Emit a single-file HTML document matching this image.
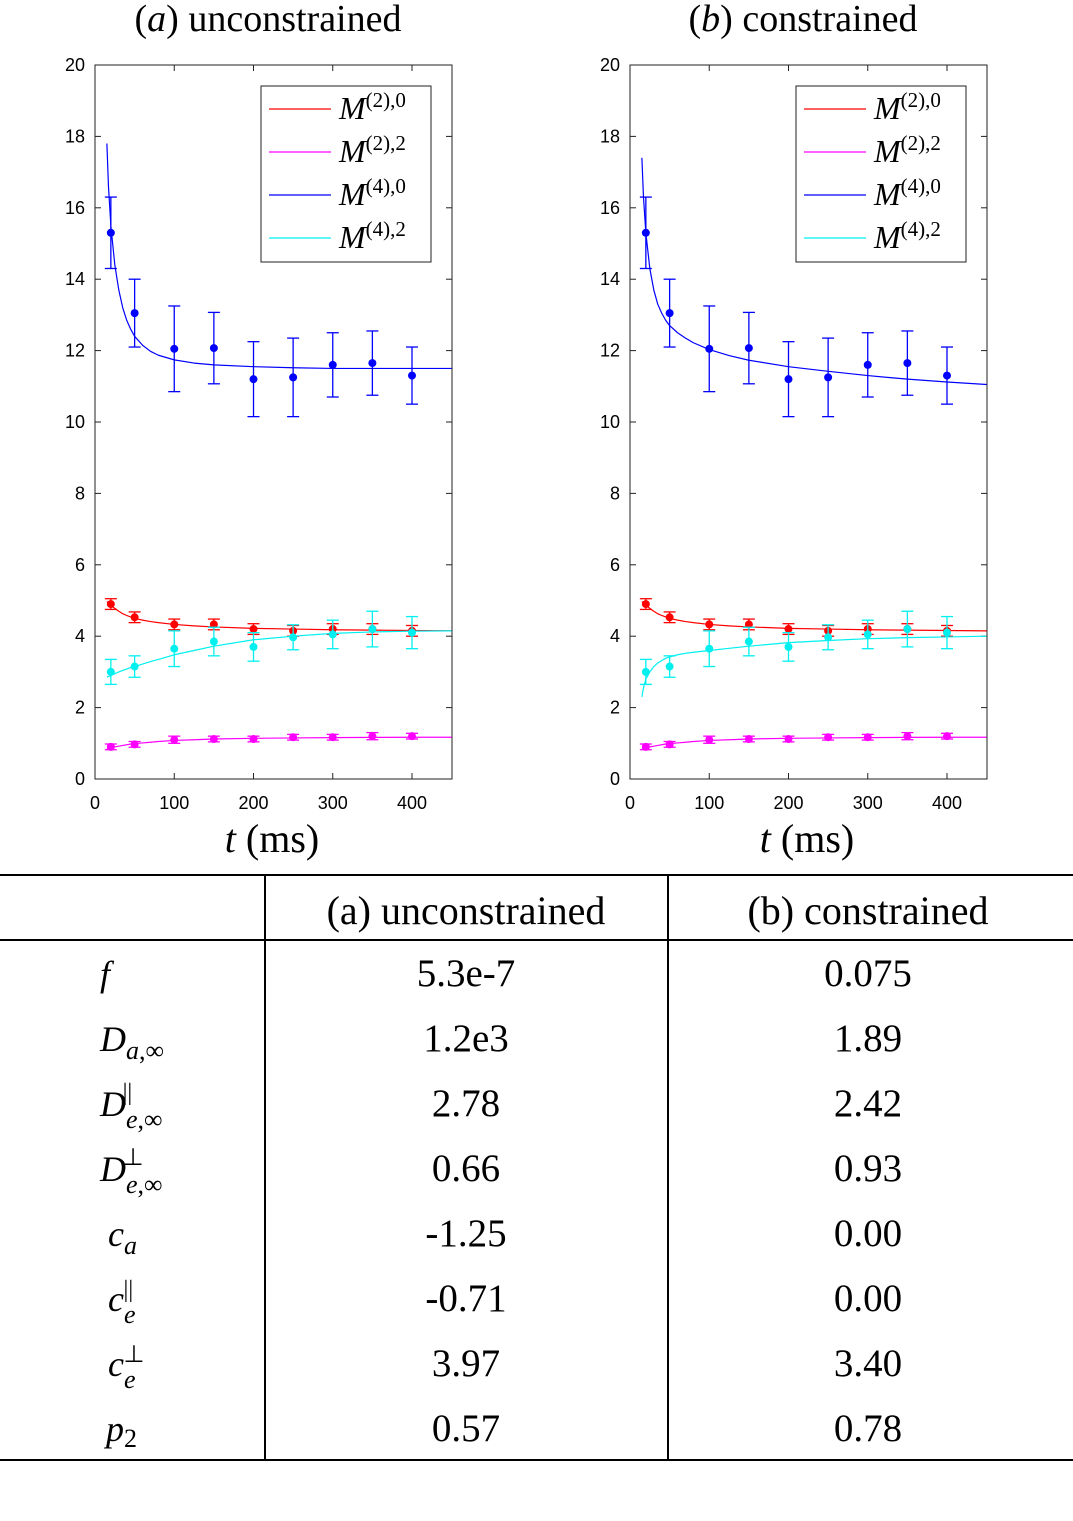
<!DOCTYPE html>
<html><head><meta charset="utf-8">
<style>
body{margin:0;background:#fff;width:1073px;height:1516px;overflow:hidden;font-family:"Liberation Serif",serif}
svg text{font-family:"Liberation Serif",serif}
.tk{font-family:"Liberation Sans",sans-serif;font-size:18px}
</style></head><body>
<svg id="fig" width="1073" height="1516">
<g id="tbl">
<line x1="0" y1="875" x2="1073" y2="875" stroke="#000" stroke-width="2"/>
<line x1="0" y1="940" x2="1073" y2="940" stroke="#000" stroke-width="2"/>
<line x1="0" y1="1460" x2="1073" y2="1460" stroke="#000" stroke-width="2"/>
<line x1="265" y1="875" x2="265" y2="1460" stroke="#000" stroke-width="2"/>
<line x1="668" y1="875" x2="668" y2="1460" stroke="#000" stroke-width="2"/>
<text x="466" y="924" font-size="40" text-anchor="middle">(a) unconstrained</text>
<text x="868" y="924" font-size="40" text-anchor="middle">(b) constrained</text>
</g>
</svg>
<script>
const svg=document.getElementById('fig');
const NS='http://www.w3.org/2000/svg';
// ---- data ----
const times=[20,50,100,150,200,250,300,350,400];
const blueVals=[15.3,13.05,12.05,12.07,11.2,11.25,11.6,11.65,11.3];
const blueErr=[1.0,0.95,1.2,1.0,1.05,1.1,0.9,0.9,0.8];
const redVals=[4.9,4.53,4.33,4.33,4.2,4.15,4.2,4.2,4.15];
const redErr=[0.15,0.15,0.15,0.15,0.15,0.15,0.15,0.15,0.15];
const cyanVals=[3.0,3.15,3.65,3.85,3.7,3.97,4.05,4.2,4.1];
const cyanErr=[0.35,0.3,0.5,0.4,0.4,0.35,0.4,0.5,0.45];
const magVals=[0.9,0.97,1.1,1.12,1.12,1.17,1.17,1.2,1.2];
const magErr=[0.08,0.08,0.1,0.08,0.08,0.08,0.08,0.1,0.08];
const fitT=[15,17,20,25,30,35,40,45,50,60,70,80,100,125,150,200,250,300,350,400,450];
const fitBlueA=[17.8,16.6,15.5,14.4,13.7,13.2,12.85,12.6,12.4,12.15,11.98,11.87,11.74,11.65,11.6,11.55,11.52,11.5,11.5,11.5,11.5];
const fitBlueB=[17.4,16.3,15.3,14.3,13.7,13.3,13.05,12.85,12.7,12.5,12.35,12.22,12.03,11.86,11.73,11.55,11.42,11.3,11.2,11.12,11.05];
const fitRed=[4.97,4.93,4.87,4.78,4.7,4.63,4.58,4.54,4.5,4.45,4.41,4.38,4.33,4.29,4.26,4.22,4.2,4.18,4.17,4.16,4.15];
const fitCyanA=[2.85,2.87,2.9,2.95,3.0,3.04,3.08,3.12,3.15,3.22,3.29,3.35,3.48,3.6,3.72,3.9,4.0,4.08,4.12,4.14,4.15];
const fitCyanB=[2.3,2.55,2.8,3.0,3.15,3.25,3.32,3.38,3.42,3.48,3.52,3.55,3.6,3.66,3.72,3.82,3.88,3.93,3.96,3.98,4.0];
const fitMag=[0.85,0.86,0.88,0.9,0.92,0.94,0.96,0.98,0.99,1.01,1.03,1.05,1.08,1.1,1.12,1.14,1.15,1.16,1.165,1.17,1.17];
const yTicks=[0,2,4,6,8,10,12,14,16,18,20];
const xTicks=[0,100,200,300,400];
const tableLabels=['<tspan font-style="italic">f</tspan>','<tspan font-style="italic">D</tspan><tspan font-size="26" dy="8"><tspan font-style="italic">a</tspan>,∞</tspan>','<tspan font-style="italic">D</tspan><tspan font-size="26" dy="12"><tspan font-style="italic">e</tspan>,∞</tspan><tspan font-size="24" dx="-40" dy="-28">||</tspan>','<tspan font-style="italic">D</tspan><tspan font-size="26" dy="12"><tspan font-style="italic">e</tspan>,∞</tspan><tspan font-size="24" dx="-40" dy="-28">⊥</tspan>','<tspan x="108" font-style="italic">c</tspan><tspan font-size="26" dy="8" font-style="italic">a</tspan>','<tspan x="108" font-style="italic">c</tspan><tspan font-size="26" dy="12" font-style="italic">e</tspan><tspan font-size="24" dx="-12" dy="-26">||</tspan>','<tspan x="108" font-style="italic">c</tspan><tspan font-size="26" dy="12" font-style="italic">e</tspan><tspan font-size="24" dx="-12" dy="-26">⊥</tspan>','<tspan x="106" font-style="italic">p</tspan><tspan font-size="26" dy="6">2</tspan>'];
const colA=['5.3e-7','1.2e3','2.78','0.66','-1.25','-0.71','3.97','0.57'];
const colB=['0.075','1.89','2.42','0.93','0.00','0.00','3.40','0.78'];

function el(tag,attrs,parent){const e=document.createElementNS(NS,tag);for(const k in attrs)e.setAttribute(k,attrs[k]);(parent||svg).appendChild(e);return e;}

function panel(x0,title,fits,name){
  const g=el('g',{});
  
  
  const L=x0,R=x0+357,T=65,B=779;
  const X=t=>L+t*(317/400), Y=v=>B-v*(B-T)/20;
  el('rect',{x:L,y:T,width:R-L,height:B-T,fill:'none',stroke:'#222','stroke-width':1},g);
  yTicks.forEach(v=>{
    el('line',{x1:L,y1:Y(v),x2:L+6,y2:Y(v),stroke:'#222'},g);
    el('line',{x1:R,y1:Y(v),x2:R-6,y2:Y(v),stroke:'#222'},g);
    const t=el('text',{x:L-10,y:Y(v)+6,'text-anchor':'end',class:'tk'},g);t.textContent=v;
  });
  xTicks.forEach(v=>{
    el('line',{x1:X(v),y1:B,x2:X(v),y2:B-6,stroke:'#222'},g);
    el('line',{x1:X(v),y1:T,x2:X(v),y2:T+6,stroke:'#222'},g);
    const t=el('text',{x:X(v),y:B+30,'text-anchor':'middle',class:'tk'},g);t.textContent=v;
  });
  const xl=el('text',{x:L+177,y:852,'text-anchor':'middle','font-size':40},g);
  xl.innerHTML='<tspan font-style="italic">t</tspan>  (ms)';
  
  
  const tt=el('text',{x:L+173,y:31,'text-anchor':'middle','font-size':38},g);
  tt.innerHTML=title;
  
  
  const series=[[redVals,redErr,'#ff0000',fits[0]],[magVals,magErr,'#ff00ff',fits[1]],[blueVals,blueErr,'#0000ff',fits[2]],[cyanVals,cyanErr,'#00f0f0',fits[3]]];
  series.forEach(([vals,errs,c,fv])=>{
    const pl=el('polyline',{points:fitT.map((t,i)=>X(t)+','+Y(fv[i])).join(' '),fill:'none',stroke:c,'stroke-width':1.2,'stroke-linejoin':'round'},g);
    
    
    times.forEach((t,i)=>{
      const x=X(t),y1=Y(vals[i]-errs[i]),y2=Y(vals[i]+errs[i]);
      el('line',{x1:x,y1:y1,x2:x,y2:y2,stroke:c,'stroke-width':1.3},g);
      el('line',{x1:x-6,y1:y1,x2:x+6,y2:y1,stroke:c,'stroke-width':1.3},g);
      el('line',{x1:x-6,y1:y2,x2:x+6,y2:y2,stroke:c,'stroke-width':1.3},g);
      const d=el('circle',{cx:x,cy:Y(vals[i]),r:4,fill:c},g);
      
      
    });
  });
  const lg=el('g',{},g);
  
  
  el('rect',{x:L+166,y:86,width:170,height:176,fill:'#fff',stroke:'#222'},lg);
  const labs=['(2),0','(2),2','(4),0','(4),2'],cols=['#ff0000','#ff00ff','#0000ff','#00f0f0'];
  labs.forEach((s,i)=>{
    const y=109+i*43;
    el('line',{x1:L+174,y1:y,x2:L+236,y2:y,stroke:cols[i],'stroke-width':1.2},lg);
    const t=el('text',{x:L+244,y:y+10,'font-size':32},lg);
    t.innerHTML='<tspan font-style="italic">M</tspan><tspan font-size="21" dy="-12">'+s+'</tspan>';
  });
}
panel(95,'(<tspan font-style="italic">a</tspan>) unconstrained',[fitRed,fitMag,fitBlueA,fitCyanA],'panel-a-unconstrained');
panel(630,'(<tspan font-style="italic">b</tspan>) constrained',[fitRed,fitMag,fitBlueB,fitCyanB],'panel-b-constrained');

const tbl=document.getElementById('tbl');
tableLabels.forEach((lab,i)=>{
  const y=986+i*65;
  const t=el('text',{x:100,y:y,'font-size':36},tbl);
  t.innerHTML=lab;
  
  
  const a=el('text',{x:466,y:y,'font-size':39,'text-anchor':'middle'},tbl);a.textContent=colA[i];
  
  
  const b=el('text',{x:868,y:y,'font-size':39,'text-anchor':'middle'},tbl);b.textContent=colB[i];
  
  
});
</script>
</body></html>
